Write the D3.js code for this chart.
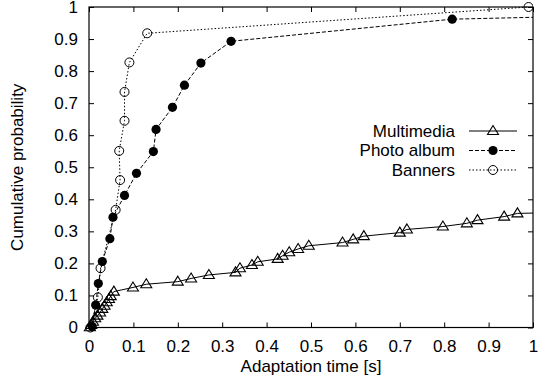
<!DOCTYPE html>
<html lang="en">
  <head>
    <meta charset="UTF-8" />
    <title>Adaptation time CDF</title>
    <script src="https://d3js.org/d3.v7.min.js"></script>
    <style>
      body { margin: 0; background: #fff; }
      text { font-family: "Liberation Sans", Arial, sans-serif; font-size: 17px; fill: #000; }
    </style>
  </head>
  <body>
    <div id="chart"></div>
    <script>
      // [adaptation time (s), cumulative probability]
      const multimedia = [
        [0.002, 0.001], [0.005, 0.008], [0.009, 0.018], [0.014, 0.029], [0.019, 0.037],
        [0.025, 0.047], [0.030, 0.058], [0.035, 0.068], [0.040, 0.079], [0.045, 0.089],
        [0.049, 0.098], [0.056, 0.112], [0.099, 0.125], [0.129, 0.135], [0.200, 0.143],
        [0.230, 0.153], [0.270, 0.164], [0.330, 0.172], [0.340, 0.185], [0.367, 0.195],
        [0.380, 0.205], [0.425, 0.214], [0.436, 0.224], [0.451, 0.235], [0.471, 0.245],
        [0.495, 0.255], [0.571, 0.265], [0.595, 0.275], [0.619, 0.285], [0.700, 0.296],
        [0.716, 0.306], [0.797, 0.315], [0.851, 0.325], [0.875, 0.335], [0.935, 0.346],
        [0.965, 0.356], [1.300, 0.366]
      ]
      const photoAlbum = [
        [0.007, 0.003], [0.015, 0.070], [0.021, 0.137], [0.030, 0.206], [0.047, 0.277],
        [0.054, 0.344], [0.080, 0.412], [0.107, 0.481], [0.145, 0.549], [0.151, 0.618],
        [0.188, 0.687], [0.215, 0.756], [0.252, 0.825], [0.320, 0.893], [0.818, 0.962],
        [2.000, 1.000]
      ]
      const banners = [
        [0.003, 0.000], [0.020, 0.094], [0.026, 0.185], [0.060, 0.367], [0.070, 0.460],
        [0.068, 0.551], [0.080, 0.645], [0.080, 0.735], [0.091, 0.827], [0.131, 0.918],
        [0.990, 1.000]
      ]
      const seriesNames = ['Multimedia', 'Photo album', 'Banners']
      const xTicks = [0, 0.1, 0.2, 0.3, 0.4, 0.5, 0.6, 0.7, 0.8, 0.9, 1]
      const yTicks = [0, 0.1, 0.2, 0.3, 0.4, 0.5, 0.6, 0.7, 0.8, 0.9, 1]

      const width = 543
      const height = 389
      const margin = { top: 7, right: 10, bottom: 61.5, left: 89 }
      const w = width - margin.left - margin.right
      const h = height - margin.top - margin.bottom

      const x = d3.scaleLinear().domain([0, 1]).range([0, w])
      const y = d3.scaleLinear().domain([0, 1]).range([h, 0])

      const svg = d3
        .select('#chart')
        .append('svg')
        .attr('width', width)
        .attr('height', height)

      const g = svg.append('g').attr('transform', `translate(${margin.left},${margin.top})`)

      g.append('clipPath')
        .attr('id', 'clip')
        .append('rect')
        .attr('x', -6)
        .attr('y', -6)
        .attr('width', w + 6)
        .attr('height', h + 12)

      const fmt = d => (d === 0 || d === 1 ? d3.format('d')(d) : d3.format('.1f')(d))

      // axes: ticks point inward, labels on bottom and left only
      const xAxis = g.append('g')
        .attr('transform', `translate(0,${h})`)
        .call(d3.axisBottom(x).tickValues(xTicks).tickSize(-5).tickPadding(12).tickFormat(fmt))
      const yAxis = g.append('g')
        .call(d3.axisLeft(y).tickValues(yTicks).tickSize(-5).tickPadding(11).tickFormat(fmt))
      const topAxis = g.append('g')
        .call(d3.axisTop(x).tickValues(xTicks).tickSize(-5).tickFormat(''))
      const rightAxis = g.append('g')
        .attr('transform', `translate(${w},0)`)
        .call(d3.axisRight(y).tickValues(yTicks).tickSize(-5).tickFormat(''))

      ;[xAxis, yAxis, topAxis, rightAxis].forEach(a => {
        a.select('.domain').remove()
        a.selectAll('line').attr('stroke', '#000')
        a.selectAll('text').style('font-size', '17px')
      })

      g.append('rect')
        .attr('width', w)
        .attr('height', h)
        .attr('fill', 'none')
        .attr('stroke', '#000')
        .attr('stroke-width', 1.2)

      const styles = [
        { data: multimedia, dash: null, marker: 'triangle' },
        { data: photoAlbum, dash: '4,2', marker: 'dot' },
        { data: banners, dash: '1.5,2', marker: 'circle' }
      ]

      const line = d3.line().x(d => x(d[0])).y(d => y(d[1]))
      const triPath = 'M0,-5.5L5.5,3.5L-5.5,3.5Z'

      function drawMarker(sel, type) {
        if (type === 'triangle') {
          sel.append('path').attr('d', triPath).attr('fill', 'none').attr('stroke', '#000').attr('stroke-width', 1.1)
        } else if (type === 'dot') {
          sel.append('circle').attr('r', 4.6).attr('fill', '#000')
        } else {
          sel.append('circle').attr('r', 4.5).attr('fill', 'none').attr('stroke', '#000').attr('stroke-width', 1)
        }
      }

      const plot = g.append('g').attr('clip-path', 'url(#clip)')

      styles.forEach(s => {
        plot.append('path')
          .datum(s.data)
          .attr('d', line)
          .attr('fill', 'none')
          .attr('stroke', '#000')
          .attr('stroke-width', 1)
          .attr('stroke-dasharray', s.dash)
        plot.selectAll(null)
          .data(s.data.filter(d => d[0] <= 1))
          .enter()
          .append('g')
          .attr('transform', d => `translate(${x(d[0])},${y(d[1])})`)
          .each(function () { drawMarker(d3.select(this), s.marker) })
      })

      // legend
      const legendY = [131, 150.5, 170]
      seriesNames.forEach((name, i) => {
        const ly = legendY[i] - margin.top
        const lx = 455 - margin.left
        g.append('text').attr('x', lx).attr('y', ly).attr('dy', '0.35em').attr('text-anchor', 'end').text(name)
        g.append('line')
          .attr('x1', 469 - margin.left).attr('x2', 517 - margin.left)
          .attr('y1', ly).attr('y2', ly)
          .attr('stroke', '#000').attr('stroke-width', 1)
          .attr('stroke-dasharray', styles[i].dash)
        const m = g.append('g').attr('transform', `translate(${493 - margin.left},${ly})`)
        drawMarker(m, styles[i].marker)
      })

      svg.append('text')
        .attr('x', margin.left + w / 2)
        .attr('y', 372)
        .attr('text-anchor', 'middle')
        .text('Adaptation time [s]')

      svg.append('text')
        .attr('transform', `translate(23,${margin.top + h / 2}) rotate(-90)`)
        .attr('text-anchor', 'middle')
        .text('Cumulative probability')
    </script>
  </body>
</html>
